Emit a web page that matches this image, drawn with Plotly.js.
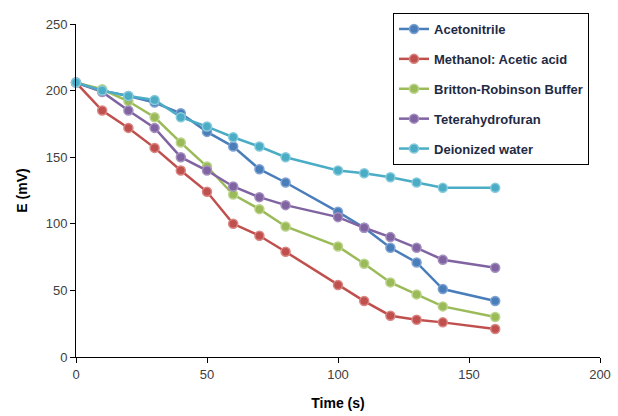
<!DOCTYPE html>
<html>
<head>
<meta charset="utf-8">
<script src="https://cdn.plot.ly/plotly-3.0.1.min.js"></script>
<style>html,body{margin:0;padding:0;background:#fff;}#chart{width:618px;height:416px;}</style>
</head>
<body>
<div id="chart"></div>
<script>
var time = [0, 10, 20, 30, 40, 50, 60, 70, 80, 100, 110, 120, 130, 140, 160];
var acetonitrile = [206, 200, 196, 191, 183, 169, 158, 141, 131, 109, 97, 82, 71, 51, 42];
var methanolAcetic = [206, 185, 172, 157, 140, 124, 100, 91, 79, 54, 42, 31, 28, 26, 21];
var brittonRobinson = [206, 201, 192, 180, 161, 143, 122, 111, 98, 83, 70, 56, 47, 38, 30];
var teterahydrofuran = [206, 199, 185, 172, 150, 140, 128, 120, 114, 105, 97, 90, 82, 73, 67];
var deionizedWater = [206, 200, 196, 193, 180, 173, 165, 158, 150, 140, 138, 135, 131, 127, 127];
var seriesNames = ["Acetonitrile", "Methanol: Acetic acid", "Britton-Robinson Buffer", "Teterahydrofuran", "Deionized water"];
var seriesValues = [acetonitrile, methanolAcetic, brittonRobinson, teterahydrofuran, deionizedWater];
var colors = ["#4A7EBB", "#C0504D", "#9BBB59", "#8064A2", "#4BACC6"];
var ringColors = ["#7FA3D1", "#D88683", "#BCD48E", "#A590C0", "#86CADB"];

var font = "'Liberation Sans Narrow', 'Liberation Sans', Arial, sans-serif";
var traces = seriesNames.map(function (n, i) {
  return {
    x: time, y: seriesValues[i], name: n, type: "scatter", mode: "lines+markers",
    legendgroup: "g" + i, cliponaxis: false,
    line: {color: colors[i], width: 2.5},
    marker: {color: colors[i], size: 9, line: {color: ringColors[i], width: 1.5}}
  };
});

var layout = {
  width: 618, height: 416,
  margin: {l: 76, r: 18, t: 24, b: 59},
  paper_bgcolor: "#fff", plot_bgcolor: "#fff",
  font: {family: font, size: 13, color: "#404040"},
  showlegend: true,
  legend: {
    x: 0.605, y: 1.033, xanchor: "left", yanchor: "top",
    bgcolor: "#fff", bordercolor: "#000", borderwidth: 1,
    font: {family: font, size: 13, color: "#1F2A44", weight: "bold"},
    traceorder: "grouped", tracegroupgap: 10, itemwidth: 30
  },
  xaxis: {
    range: [0, 200], tickvals: [0, 50, 100, 150, 200],
    showgrid: false, zeroline: false, showline: true, linecolor: "#000", linewidth: 1,
    ticks: "outside", ticklen: 5, tickcolor: "#000",
    tickfont: {family: font, size: 13, color: "#404040"},
    title: {text: "Time (s)", font: {family: font, size: 14, color: "#000", weight: "bold"}, standoff: 17}
  },
  yaxis: {
    range: [0, 250], tickvals: [0, 50, 100, 150, 200, 250],
    showgrid: false, zeroline: false, showline: true, linecolor: "#000", linewidth: 1,
    ticks: "outside", ticklen: 5, tickcolor: "#000",
    tickfont: {family: font, size: 13, color: "#404040"},
    title: {text: "E (mV)", font: {family: font, size: 14, color: "#000", weight: "bold"}, standoff: 14}
  }
};

Plotly.newPlot("chart", traces, layout, {displayModeBar: false, staticPlot: true});
</script>
</body>
</html>
